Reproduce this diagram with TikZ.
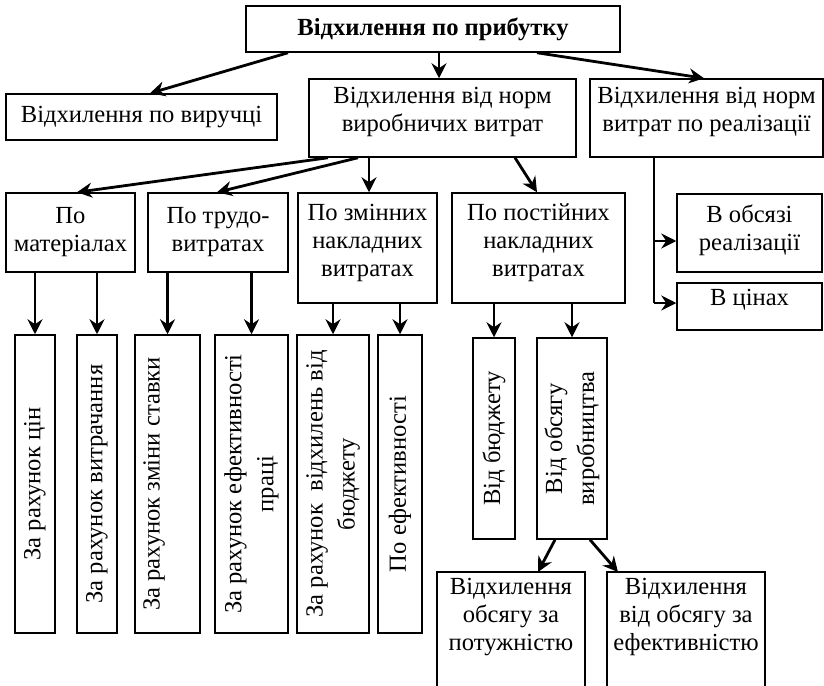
\documentclass[tikz,border=0pt]{standalone}
\usepackage{fontspec}
\setmainfont{Liberation Serif}
\usetikzlibrary{arrows.meta}

\begin{document}
\begin{tikzpicture}[
x=0.5pt, y=-0.5pt,
box/.style={draw, line width=0.75pt, align=center, inner sep=2pt, font=\fontsize{12.3}{14}\selectfont},
lift/.style={execute at end node={\rule[-#1]{0pt}{#1}}},
vbox/.style={box, rotate=90, minimum width=149pt, font=\fontsize{12.3}{16}\selectfont},
openbox/.style={align=center, anchor=north, inner xsep=2pt, inner ysep=3pt, font=\fontsize{12.3}{14}\selectfont},
frame/.style={draw, line width=0.75pt},
arr/.style={-{Stealth[length=7.5pt, width=7.5pt, inset=2.5pt]}, line width=1.4pt},
bus/.style={line width=0.6pt}
]
\useasboundingbox (0,0) rectangle (824,685);
\clip (0,0) rectangle (824,685);

\node[box, font=\fontsize{12.3}{14}\selectfont\bfseries, minimum width=187pt, minimum height=23pt] (profit) at (433,29) {Відхилення по прибутку};
\node[box, minimum width=135.5pt, minimum height=23pt] (revenue) at (141.5,117) {Відхилення по виручці};
\node[box, lift=8.5pt, minimum width=133.5pt, minimum height=39pt] (prodcost) at (442.5,118) {Відхилення від норм\\виробничих витрат};
\node[box, lift=8.5pt, minimum width=116.5pt, minimum height=39pt] (salecost) at (706.5,118) {Відхилення від норм\\витрат по реалізації};

\node[box, minimum width=64.5pt, minimum height=39.5pt] (material) at (70.5,232.5) {По\\матеріалах};
\node[box, minimum width=70pt, minimum height=39.5pt] (labour) at (218,232.5) {По трудо-\\витратах};
\node[box, lift=7.7pt, minimum width=69.5pt, minimum height=55pt] (varoh) at (367.5,248) {По змінних\\накладних\\витратах};
\node[box, lift=7.7pt, minimum width=86.5pt, minimum height=55pt] (fixoh) at (538.5,248) {По постійних\\накладних\\витратах};
\node[box, lift=5.7pt, minimum width=72.5pt, minimum height=39pt] (volume) at (749.5,233) {В обсязі\\реалізації};
\node[box, lift=9pt, minimum width=72.5pt, minimum height=23.5pt] (prices) at (749.5,306.5) {В цінах};

\node[vbox, minimum height=20pt] (mprice) at (35,484) {За рахунок цін};
\node[vbox, minimum height=20pt] (musage) at (97,484) {За рахунок витрачання};
\node[vbox, minimum height=32.5pt] (lrate) at (167.5,484) {За рахунок зміни ставки\\\mbox{}};
\node[vbox, minimum height=36.5pt] (leff) at (251.5,484) {За рахунок ефективності\\праці};
\node[vbox, minimum height=36pt] (vbudget) at (333,484) {За рахунок\ \ відхилень від\\бюджету};
\node[vbox, minimum height=22pt] (veff) at (400,484) {По ефективності};
\node[vbox, minimum width=100.5pt, minimum height=21pt] (fbudget) at (494,438.5) {Від бюджету};
\node[vbox, minimum width=100.5pt, minimum height=35pt] (fvolume) at (572,438.5) {Від обсягу\\виробництва};

\node[openbox] (capacity) at (511,572) {Відхилення\\обсягу за\\потужністю};
\node[openbox] (efficiency) at (686,572) {Відхилення\\від обсягу за\\ефективністю};
\draw[frame] ([xshift=-37pt]capacity.north) rectangle ([xshift=37pt,yshift=-80pt]capacity.north);
\draw[frame] ([xshift=-39.5pt]efficiency.north) rectangle ([xshift=39.5pt,yshift=-80pt]efficiency.north);

\draw[arr] ([xshift=-72.5pt]profit.south) -- ([xshift=4.25pt]revenue.north);
\draw[arr] ([xshift=3pt]profit.south) -- ([xshift=-1.75pt]prodcost.north);
\draw[arr] ([xshift=52pt]profit.south) -- ([xshift=-1.25pt]salecost.north);
\draw[arr] ([xshift=-57.25pt]prodcost.south) -- ([xshift=3.25pt]material.north);
\draw[arr] ([xshift=-42.25pt]prodcost.south) -- ([xshift=-0.5pt]labour.north);
\draw[arr] ([xshift=-36.75pt]prodcost.south) -- ([xshift=0.75pt]varoh.north);
\draw[arr] ([xshift=36.25pt]prodcost.south) -- ([xshift=-0.75pt]fixoh.north);

% branch to the sale boxes
\coordinate (bus) at ([xshift=-26.25pt]salecost.south);
\coordinate (vin) at ([yshift=-4pt]volume.west);
\coordinate (pin) at ([yshift=1.75pt]prices.west);
\draw[bus] (bus) -- (bus |- pin);
\draw[arr] (bus |- vin) -- (vin);
\draw[arr] (bus |- pin) -- (pin);

\draw[arr] (material.south -| mprice) -- (mprice.east);
\draw[arr] (material.south -| musage) -- (musage.east);
\draw[arr] (labour.south -| lrate) -- (lrate.east);
\draw[arr] (labour.south -| leff) -- (leff.east);
\draw[arr] (varoh.south -| vbudget) -- (vbudget.east);
\draw[arr] (varoh.south -| veff) -- (veff.east);
\draw[arr] (fixoh.south -| fbudget) -- (fbudget.east);
\draw[arr] (fixoh.south -| fvolume) -- (fvolume.east);

\draw[arr] ([xshift=-8.5pt]fvolume.west) -- ([xshift=13.5pt]capacity.north);
\draw[arr] ([xshift=9pt]fvolume.west) -- ([xshift=-34pt]efficiency.north);
\end{tikzpicture}
\end{document}
